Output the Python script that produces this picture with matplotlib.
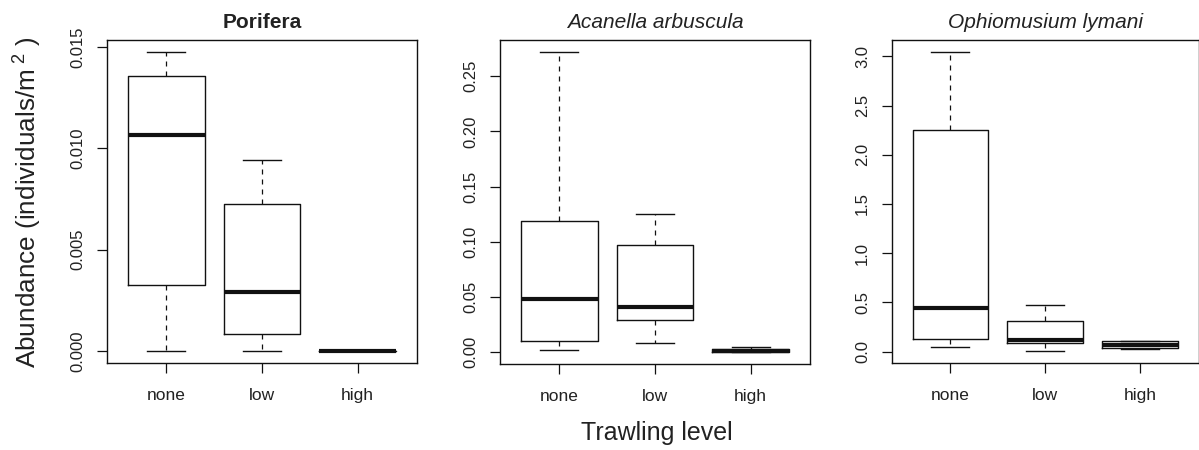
import matplotlib
matplotlib.use("Agg")
import matplotlib.pyplot as plt

plt.rcParams['font.family'] = ['Liberation Sans', 'DejaVu Sans']
plt.rcParams['mathtext.fontset'] = 'custom'
plt.rcParams['mathtext.rm'] = 'Liberation Sans'
plt.rcParams['mathtext.it'] = 'Liberation Sans:italic'
plt.rcParams['mathtext.bf'] = 'Liberation Sans:bold'

categories = ["none", "low", "high"]

# Panel titles
titles = ["Porifera", "Acanella arbuscula", "Ophiomusium lymani"]
title_styles = [("normal", "bold"), ("italic", "normal"), ("italic", "normal")]

# Box statistics per panel: whisker low, Q1, median, Q3, whisker high
porifera_wlo = [0.0, 0.0, 0.0]
porifera_q1 = [0.00328, 0.00082, 0.0]
porifera_med = [0.01066, 0.0029, 0.0]
porifera_q3 = [0.01356, 0.00725, 0.0]
porifera_whi = [0.01475, 0.00941, 0.0]

acanella_wlo = [0.0022, 0.0082, 0.0]
acanella_q1 = [0.0097, 0.0294, 0.0]
acanella_med = [0.0484, 0.0408, 0.0008]
acanella_q3 = [0.1185, 0.0967, 0.0030]
acanella_whi = [0.272, 0.1249, 0.0045]

ophio_wlo = [0.05, 0.006, 0.03]
ophio_q1 = [0.132, 0.091, 0.035]
ophio_med = [0.445, 0.117, 0.064]
ophio_q3 = [2.248, 0.31, 0.108]
ophio_whi = [3.044, 0.476, 0.111]

yticks = [
    [0.0, 0.005, 0.010, 0.015],
    [0.0, 0.05, 0.10, 0.15, 0.20, 0.25],
    [0.0, 0.5, 1.0, 1.5, 2.0, 2.5, 3.0],
]
ytick_labels = [
    ["0.000", "0.005", "0.010", "0.015"],
    ["0.00", "0.05", "0.10", "0.15", "0.20", "0.25"],
    ["0.0", "0.5", "1.0", "1.5", "2.0", "2.5", "3.0"],
]

panels = [
    (porifera_wlo, porifera_q1, porifera_med, porifera_q3, porifera_whi),
    (acanella_wlo, acanella_q1, acanella_med, acanella_q3, acanella_whi),
    (ophio_wlo, ophio_q1, ophio_med, ophio_q3, ophio_whi),
]

W, H = 1199, 450
fig = plt.figure(figsize=(W / 100, H / 100), dpi=100)

# axes boxes in pixels: left, top, right, bottom
boxes_px = [(107, 40, 417, 363), (500, 40, 810, 364), (891.7, 40, 1198.6, 363)]

ink = "#111111"
txt = "#222222"

for i, (stats_arr, (l, t, r, b)) in enumerate(zip(panels, boxes_px)):
    ax = fig.add_axes([l / W, (H - b) / H, (r - l) / W, (b - t) / H])
    wlo, q1, med, q3, whi = stats_arr
    stats = []
    for k, c in enumerate(categories):
        stats.append(dict(label=c, whislo=wlo[k], q1=q1[k], med=med[k],
                          q3=q3[k], whishi=whi[k], fliers=[]))
    ax.bxp(stats, positions=[1, 2, 3], widths=0.8, showfliers=False,
           boxprops=dict(color=ink, linewidth=1.0),
           medianprops=dict(color=ink, linewidth=3.0, solid_capstyle='butt'),
           whiskerprops=dict(color=ink, linewidth=0.9, linestyle=(0, (4, 4))),
           capprops=dict(color=ink, linewidth=1.0), capwidths=0.4)
    lo = min(wlo)
    hi = max(whi)
    ext = 0.04 * (hi - lo)
    ax.set_ylim(lo - ext, hi + ext)
    ax.set_xlim(0.38, 3.62)
    ax.set_yticks(yticks[i])
    ax.set_yticklabels(ytick_labels[i], rotation=90, va='center',
                       fontsize=12, color=txt)
    ax.set_xticks([1, 2, 3])
    ax.set_xticklabels(categories, fontsize=12.5, color=txt)
    ax.tick_params(axis='y', length=7.2, width=0.9, color=ink, pad=8.5)
    ax.tick_params(axis='x', length=7.2, width=0.9, color=ink, pad=11)
    for s in ax.spines.values():
        s.set_color(ink)
        s.set_linewidth(1.0)
    st, wt = title_styles[i]
    ax.set_title(titles[i], fontsize=15, fontstyle=st, fontweight=wt,
                 color=txt, pad=9)

fig.text(28 / W, 1 - 202 / H, r"Abundance (individuals/m$^{\ 2}$ )",
         rotation=90, ha='center', va='center', fontsize=18.8, color=txt)
fig.text(657 / W, 1 - 433 / H, "Trawling level", ha='center', va='center',
         fontsize=18, color=txt)

fig.savefig("out.png", dpi=100, facecolor='white')
